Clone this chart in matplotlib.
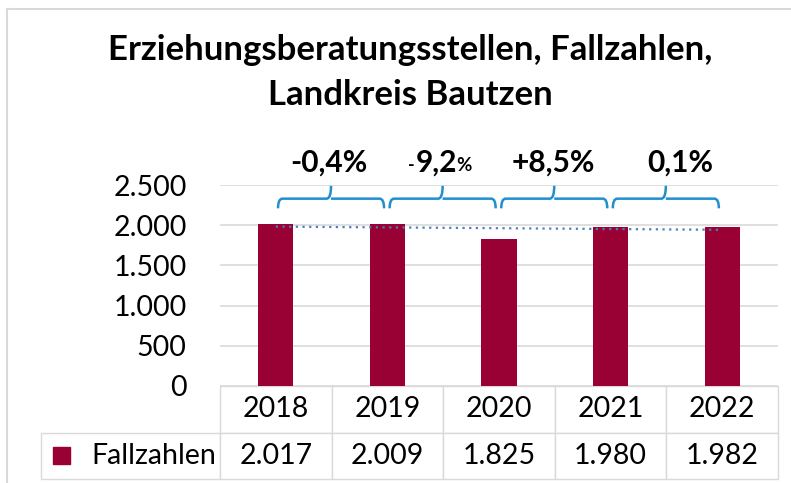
import numpy as np
import matplotlib
matplotlib.use("Agg")
import matplotlib.pyplot as plt
from matplotlib.patches import Rectangle, PathPatch
from matplotlib.path import Path
from matplotlib.table import Table

years = ["2018", "2019", "2020", "2021", "2022"]
fallzahlen = [2017, 2009, 1825, 1980, 1982]
changes = ["-0,4%", "-9,2%", "+8,5%", "0,1%"]
yticks = [0, 500, 1000, 1500, 2000, 2500]

BAR_COLOR = "#990033"
BRACE_COLOR = "#1f8fd0"
TREND_COLOR = "#4a7fc1"
GRID_COLOR = "#d9d9d9"

plt.rcParams["font.family"] = ["Lato", "DejaVu Sans"]

W, H = 791, 483
fig = plt.figure(figsize=(W / 100, H / 100), dpi=100)

# plot area in pixels: x 220..778, y 185(top)..386(bottom)
ax = fig.add_axes([220 / W, 1 - 386 / H, 558 / W, 201 / H])

x = np.arange(len(years))
ax.bar(x, fallzahlen, width=0.315, color=BAR_COLOR, zorder=3)

# linear trend line
k, d = np.polyfit(x, fallzahlen, 1)
ax.plot(x, k * x + d, linestyle=(0, (1, 2)), color=TREND_COLOR, lw=1.6, zorder=4)

ax.set_xlim(-0.5, len(years) - 0.5)
ax.set_ylim(0, 2500)
ax.set_yticks(yticks)
ax.set_yticklabels([f"{v:,}".replace(",", ".") for v in yticks], fontsize=20.5)
ax.tick_params(axis="y", length=0, pad=24)
ax.set_xticks([])
ax.yaxis.grid(True, color=GRID_COLOR, lw=1.2)
ax.set_axisbelow(True)
for s in ax.spines.values():
    s.set_visible(False)


def brace(x0, x1, y_mid, y_end, y_tip):
    xm = (x0 + x1) / 2
    r = 0.04
    verts = [
        (x0, y_end), (x0, y_mid), (x0 + r, y_mid),
        (xm - r, y_mid), (xm, y_mid), (xm, y_tip),
        (xm, y_mid), (xm + r, y_mid),
        (x1 - r, y_mid), (x1, y_mid), (x1, y_end),
    ]
    codes = [
        Path.MOVETO, Path.CURVE3, Path.CURVE3,
        Path.LINETO, Path.CURVE3, Path.CURVE3,
        Path.MOVETO, Path.LINETO,
        Path.LINETO, Path.CURVE3, Path.CURVE3,
    ]
    p = PathPatch(Path(verts, codes), fill=False, edgecolor=BRACE_COLOR,
                  lw=1.8, clip_on=False, zorder=5)
    ax.add_patch(p)


label_x = [0.48, 1.256, 2.49, 3.62]
label_y = 2670
for i, txt in enumerate(changes):
    brace(i + 0.02, i + 0.97, 2330, 2210, 2490)
    if txt == "-9,2%":
        ax.text(label_x[i] - 0.01, label_y, "-", fontsize=13, fontweight="bold",
                ha="right", va="baseline", clip_on=False)
        ax.text(label_x[i], label_y, "9,2", fontsize=21.5, fontweight="bold",
                ha="left", va="baseline", clip_on=False)
        ax.text(label_x[i] + 0.36, label_y, "%", fontsize=13.5, fontweight="bold",
                ha="left", va="baseline", clip_on=False)
    else:
        ax.text(label_x[i], label_y, txt, fontsize=21.5, fontweight="bold",
                ha="center", va="baseline", clip_on=False)

# data table below the plot (widths in axes units, label column to the left)
col_w = 1 / len(years)
lab_w = (220 - 41) / 558
row_h = (479 - 386) / 201 / 2
tab = Table(ax, bbox=[0, -2 * row_h, 1, 2 * row_h])
for j, yr in enumerate(years):
    c = tab.add_cell(0, j, width=col_w, height=row_h, text=yr, loc="center")
    c.set_edgecolor(GRID_COLOR)
    c.get_text().set_fontsize(20.5)
    c = tab.add_cell(1, j, width=col_w, height=row_h,
                     text=f"{fallzahlen[j]:,}".replace(",", "."), loc="center")
    c.set_edgecolor(GRID_COLOR)
    c.get_text().set_fontsize(20.5)
c = tab.add_cell(1, -1, width=lab_w, height=row_h, text="Fallzahlen", loc="right")
c.set_edgecolor(GRID_COLOR)
c.get_text().set_fontsize(20.5)
c.PAD = 0.02
tab.auto_set_font_size(False)
ax.add_table(tab)

# legend key in the row label cell
fig.add_artist(Rectangle((53 / W, 1 - 464 / H), 17 / W, 17 / H, color=BAR_COLOR))

# title
fig.text(410 / W, 1 - 50 / H, "Erziehungsberatungsstellen, Fallzahlen,",
         fontsize=25, fontweight="bold", ha="center", va="center")
fig.text(410 / W, 1 - 95 / H, "Landkreis Bautzen",
         fontsize=25, fontweight="bold", ha="center", va="center")

# chart frame
fig.add_artist(plt.Line2D([7 / W, 7 / W], [0, 1 - 9 / H], color=GRID_COLOR, lw=1.5))
fig.add_artist(plt.Line2D([7 / W, 1], [1 - 9 / H, 1 - 9 / H], color=GRID_COLOR, lw=1.5))

fig.savefig("out.png", dpi=100)
